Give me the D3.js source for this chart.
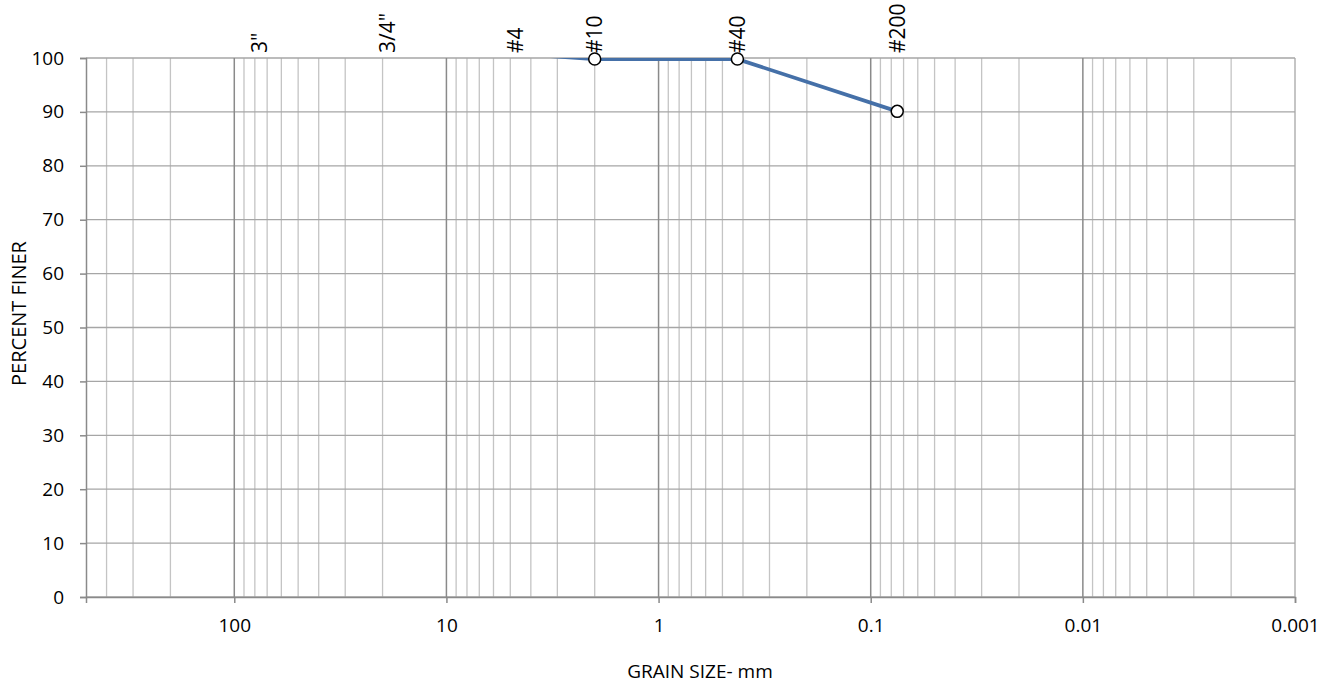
<!DOCTYPE html>
<html>
<head>
<meta charset="utf-8">
<script src="https://cdn.jsdelivr.net/npm/d3@7"></script>
<style>
  body { margin: 0; background: #fff; }
  text { font-family: "Open Sans", "Noto Sans", sans-serif; fill: #000; }
</style>
</head>
<body>
<div id="chart"></div>
<script>
// sieve data (grain size in mm, percent finer)
const grainSize = [4.75, 2.0, 0.425, 0.075];
const percentFiner = [100.8, 99.8, 99.8, 90.1];

// sieve labels along the top
const sieveLabels = ['3"', '3/4"', '#4', '#10', '#40', '#200'];
const sieveSizes = [76.2, 19.0, 4.75, 2.0, 0.425, 0.075];

// axis ticks
const xTickValues = [100, 10, 1, 0.1, 0.01, 0.001];
const yTickValues = [0, 10, 20, 30, 40, 50, 60, 70, 80, 90, 100];

const W = 1332, H = 683;
const margin = {top: 58, right: 37, bottom: 86, left: 86};

const svg = d3.select("#chart").append("svg")
    .attr("width", W)
    .attr("height", H);

let x = d3.scaleLog()
    .domain([500, 0.001])
    .range([margin.left, W - margin.right]);

let y = d3.scaleLinear()
    .domain([0, 100])
    .range([H - margin.bottom, margin.top]);

// minor vertical gridlines: 2..9 in each decade
let minor = [];
for (let e = -3; e <= 2; e++) {
    for (let k = 2; k <= 9; k++) {
        let v = k * Math.pow(10, e);
        if (v < 500) minor.push(v);
    }
}
let major = [100, 10, 1, 0.1, 0.01];

let grid = svg.append("g");

grid.selectAll(".minor")
    .data(minor)
    .join("line")
    .attr("x1", d => x(d)).attr("x2", d => x(d))
    .attr("y1", y(0)).attr("y2", y(100))
    .attr("stroke", "#c4c4c4")
    .attr("stroke-width", 1.3);

grid.selectAll(".hgrid")
    .data(yTickValues)
    .join("line")
    .attr("x1", x.range()[0]).attr("x2", x.range()[1])
    .attr("y1", d => y(d)).attr("y2", d => y(d))
    .attr("stroke", "#a6a6a6")
    .attr("stroke-width", 1.3);

grid.selectAll(".major")
    .data(major)
    .join("line")
    .attr("x1", d => x(d)).attr("x2", d => x(d))
    .attr("y1", y(0)).attr("y2", y(100))
    .attr("stroke", "#8a8a8a")
    .attr("stroke-width", 1.5);

// right border
grid.append("line")
    .attr("x1", x(0.001)).attr("x2", x(0.001))
    .attr("y1", y(0)).attr("y2", y(100))
    .attr("stroke", "#a6a6a6")
    .attr("stroke-width", 1.3);

// x axis
let xAxis = svg.append("g")
    .attr("transform", `translate(0,${y(0)})`)
    .call(d3.axisBottom(x)
        .tickValues(xTickValues)
        .tickFormat(d => d3.format("~g")(d))
        .tickSize(6)
        .tickPadding(16));
xAxis.select(".domain").attr("stroke", "#8a8a8a").attr("stroke-width", 1.5);
xAxis.selectAll(".tick line").attr("stroke", "#8a8a8a").attr("stroke-width", 1.5);
xAxis.selectAll("text").style("font-size", "19px").attr("fill", "#000");

// y axis
let yAxis = svg.append("g")
    .attr("transform", `translate(${margin.left},0)`)
    .call(d3.axisLeft(y)
        .tickValues(yTickValues)
        .tickSize(6)
        .tickPadding(16));
yAxis.select(".domain").attr("stroke", "#8a8a8a").attr("stroke-width", 1.5);
yAxis.selectAll(".tick line").attr("stroke", "#8a8a8a").attr("stroke-width", 1.5);
yAxis.selectAll("text").style("font-size", "19px").attr("fill", "#000");

// axis titles
svg.append("text")
    .attr("x", 700)
    .attr("y", 678)
    .attr("text-anchor", "middle")
    .style("font-size", "19px")
    .text("GRAIN SIZE- mm");

svg.append("text")
    .attr("transform", `translate(26,${(y(0) + y(100)) / 2 - 14}) rotate(-90)`)
    .attr("text-anchor", "middle")
    .style("font-size", "20px")
    .text("PERCENT FINER");

// curve
let pts = grainSize.map((g, i) => ({size: g, pct: percentFiner[i]}));

svg.append("clipPath").attr("id", "plotclip")
    .append("rect")
    .attr("x", x.range()[0]).attr("y", y(100))
    .attr("width", x.range()[1] - x.range()[0])
    .attr("height", y(0) - y(100));

svg.append("path")
    .datum(pts)
    .attr("clip-path", "url(#plotclip)")
    .attr("fill", "none")
    .attr("stroke", "#4570a8")
    .attr("stroke-width", 3.8)
    .attr("stroke-linejoin", "round")
    .attr("d", d3.line().x(d => x(d.size)).y(d => y(d.pct)));

// sieve labels
svg.selectAll(".sieve")
    .data(sieveLabels)
    .join("text")
    .attr("transform", (d, i) => `translate(${x(sieveSizes[i])},${y(100) - 5}) rotate(-90)`)
    .attr("dy", "0.36em")
    .attr("text-anchor", "start")
    .style("font-size", "21px")
    .text(d => d);

// markers
svg.selectAll(".pt")
    .data(pts.filter(d => d.pct <= 100))
    .join("circle")
    .attr("cx", d => x(d.size))
    .attr("cy", d => y(d.pct))
    .attr("r", 6)
    .attr("fill", "#fff")
    .attr("stroke", "#000")
    .attr("stroke-width", 1.5);
</script>
</body>
</html>
